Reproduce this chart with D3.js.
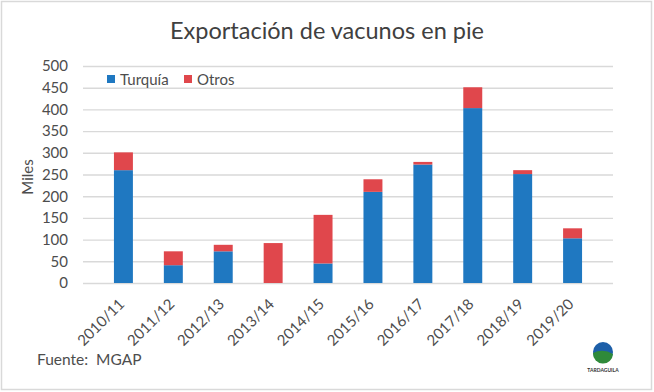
<!DOCTYPE html>
<html>
<head>
<meta charset="utf-8">
<script src="https://cdn.jsdelivr.net/npm/d3@7"></script>
<style>
  body { margin: 0; background: #fff; }
  svg { display: block; font-family: Lato, "Open Sans", sans-serif; }
</style>
</head>
<body>
<script>
// data (miles de cabezas)
const campanas = ["2010/11","2011/12","2012/13","2013/14","2014/15","2015/16","2016/17","2017/18","2018/19","2019/20"];
const turquia = [260, 41, 73, 0, 45, 210, 273, 403, 251, 103];
const otros   = [41, 32, 15, 92, 112, 29, 6, 48, 9, 23];
const yTicks  = [0, 50, 100, 150, 200, 250, 300, 350, 400, 450, 500];

const w = 654, h = 392;
const plotL = 83, plotR = 613, plotT = 66, plotB = 283;
const textCol = "#4d4d4d";

const svg = d3.select("body").append("svg")
    .attr("width", w).attr("height", h);

// frame
svg.append("rect")
    .attr("x", 1.5).attr("y", 1.5)
    .attr("width", w - 4).attr("height", h - 4)
    .attr("fill", "#fff").attr("stroke", "#d9d9d9").attr("stroke-width", 1.5);

const x = d3.scaleBand().domain(campanas).range([plotL, plotR]).padding(0.62);
const y = d3.scaleLinear().domain([0, 500]).range([plotB, plotT]);

// gridlines + y labels
const yAxis = d3.axisLeft(y).tickValues(yTicks).tickSize(-(plotR - plotL)).tickPadding(15);
const gy = svg.append("g").attr("transform", "translate(" + plotL + ",0)").call(yAxis);
gy.select(".domain").remove();
gy.selectAll(".tick line").attr("stroke", "#d9d9d9").attr("stroke-width", 1.4);
gy.selectAll(".tick text").attr("fill", textCol).attr("font-size", 15)
    .attr("font-family", "Lato, sans-serif");

// stacked bars
const rows = campanas.map((c, i) => ({ campana: c, Turquía: turquia[i], Otros: otros[i] }));
const stack = d3.stack().keys(["Turquía", "Otros"])(rows);
const colors = { "Turquía": "#1f78c1", "Otros": "#e0474c" };

svg.selectAll("g.serie")
    .data(stack)
    .enter().append("g")
    .attr("class", "serie")
    .attr("fill", d => colors[d.key])
    .selectAll("rect")
    .data(d => d)
    .enter().append("rect")
    .attr("x", d => x(d.data.campana))
    .attr("y", d => y(d[1]))
    .attr("width", x.bandwidth())
    .attr("height", d => y(d[0]) - y(d[1]));

// x labels
const xAxis = d3.axisBottom(x).tickSize(0).tickPadding(0);
const gx = svg.append("g").attr("transform", "translate(0," + plotB + ")").call(xAxis);
gx.select(".domain").remove();
gx.selectAll(".tick text")
    .attr("fill", textCol).attr("font-size", 15).attr("font-family", "Lato, sans-serif")
    .attr("text-anchor", "end")
    .attr("dy", null)
    .attr("transform", "translate(2,22) rotate(-45)");

// title
svg.append("text")
    .attr("x", 327).attr("y", 39)
    .attr("text-anchor", "middle")
    .attr("font-size", 23.5)
    .attr("fill", "#404040")
    .text("Exportación de vacunos en pie");

// y title
svg.append("text")
    .attr("transform", "translate(33,177) rotate(-90)")
    .attr("text-anchor", "middle")
    .attr("font-size", 15)
    .attr("fill", textCol)
    .text("Miles");

// legend
const legend = [{ name: "Turquía", x: 107 }, { name: "Otros", x: 184 }];
legend.forEach(l => {
  svg.append("rect").attr("x", l.x).attr("y", 75).attr("width", 8).attr("height", 8)
      .attr("fill", colors[l.name]);
  svg.append("text").attr("x", l.x + 13).attr("y", 84.5)
      .attr("font-size", 15).attr("fill", textCol).text(l.name);
});

// source
svg.append("text")
    .attr("x", 37).attr("y", 365)
    .attr("font-size", 15.5).attr("fill", textCol)
    .style("white-space", "pre")
    .text("Fuente:  MGAP");

// logo
const logo = svg.append("g").attr("transform", "translate(603,352)");
logo.append("circle").attr("r", 10).attr("fill", "#1d5fa8");
logo.append("path").attr("d", "M-10,1 Q0,-4 10,2 A10,10 0 0 1 -10,1 Z").attr("fill", "#2f8a3a");
logo.append("text").attr("y", 20).attr("text-anchor", "middle")
    .attr("font-size", 5).attr("font-weight", "bold").attr("fill", "#333")
    .text("TARDAGUILA");
</script>
</body>
</html>
